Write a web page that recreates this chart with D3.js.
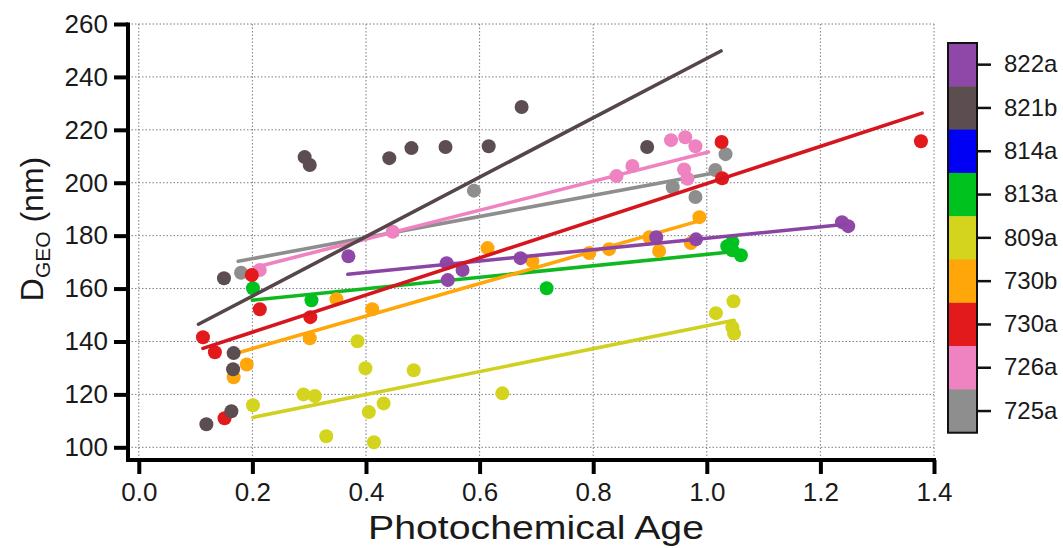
<!DOCTYPE html>
<html>
<head>
<meta charset="utf-8">
<script src="https://cdn.jsdelivr.net/npm/d3@7/dist/d3.min.js"></script>
<style>
  html, body { margin: 0; padding: 0; background: #fff; }
  svg { display: block; font-family: "Liberation Sans", Arial, sans-serif; }
</style>
</head>
<body>
<svg id="chart" width="1063" height="548"></svg>
<script>
// ---- data ----
const seriesNames = ["725a", "726a", "730a", "730b", "809a", "813a", "814a", "821b", "822a"];
const seriesColors = ["#8e8e8e", "#ef83c2", "#e31a1c", "#ffa60a", "#d4d41e", "#00c21e", "#0000f5", "#5c4d51", "#8f47a8"];
const lineColors   = ["#8e8e8e", "#ef83c2", "#d6161e", "#ffa60a", "#cfd020", "#10b820", "#0000f5", "#554649", "#8a44a4"];

const x725a = [0.18, 0.59, 0.94, 0.98, 1.015, 1.033];
const y725a = [166, 197, 198.3, 194.6, 204.8, 210.8];
const x726a = [0.213, 0.447, 0.841, 0.869, 0.937, 0.962, 0.98, 0.96, 0.966];
const y726a = [167, 181.5, 202.5, 206.3, 216.1, 217.2, 213.8, 205, 201.5];
const x730a = [0.199, 0.213, 0.113, 0.134, 0.151, 0.302, 1.026, 1.027, 1.377];
const y730a = [165.1, 152.2, 141.6, 135.9, 111, 149.2, 215.4, 201.7, 215.7];
const x730b = [0.167, 0.19, 0.301, 0.348, 0.411, 0.614, 0.693, 0.793, 0.828, 0.899, 0.916, 0.972, 0.987];
const y730b = [126.5, 131.3, 141.2, 156, 152.2, 175.3, 170.4, 173.4, 174.9, 179.4, 174.2, 177.2, 187];
const x809a = [0.201, 0.29, 0.31, 0.33, 0.385, 0.399, 0.405, 0.414, 0.431, 0.484, 0.64, 1.016, 1.047, 1.045, 1.048];
const y809a = [115.9, 120, 119.4, 104.2, 140.1, 129.9, 113.3, 101.9, 116.6, 129.1, 120.4, 150.7, 155.2, 145.4, 143];
const x813a = [0.201, 0.304, 0.718, 1.036, 1.045, 1.045, 1.06];
const y813a = [160.1, 155.6, 160.1, 176, 177.5, 174.5, 172.6];
const x814a = [];
const y814a = [];
const x821b = [0.292, 0.301, 0.441, 0.48, 0.54, 0.616, 0.674, 0.895, 0.15, 0.167, 0.166, 0.163, 0.119];
const y821b = [209.7, 206.7, 209.3, 213.1, 213.5, 213.8, 228.6, 213.5, 163.9, 135.6, 129.5, 113.6, 108.7];
const x822a = [0.369, 0.542, 0.544, 0.57, 0.672, 0.911, 0.981, 1.238, 1.249];
const y822a = [172.2, 169.6, 163.2, 167, 171.5, 179.4, 178.6, 185.1, 183.6];

// fit lines: [xStart, yStart, xEnd, yEnd]
const fit725a = [0.175, 170.3, 1.02, 204];
const fit726a = [0.204, 168, 1.003, 211.6];
const fit730a = [0.113, 137.4, 1.379, 226.3];
const fit730b = [0.166, 135.2, 0.982, 185.3];
const fit809a = [0.201, 111.3, 1.048, 148];
const fit813a = [0.2, 155.6, 1.045, 173.9];
const fit814a = null;
const fit821b = [0.105, 146.5, 1.025, 249.8];
const fit822a = [0.368, 165.4, 1.245, 184.3];

const xTicks = [0.0, 0.2, 0.4, 0.6, 0.8, 1.0, 1.2, 1.4];
const yTicks = [100, 120, 140, 160, 180, 200, 220, 240, 260];

const xData = [x725a, x726a, x730a, x730b, x809a, x813a, x814a, x821b, x822a];
const yData = [y725a, y726a, y730a, y730b, y809a, y813a, y814a, y821b, y822a];
const fits  = [fit725a, fit726a, fit730a, fit730b, fit809a, fit813a, fit814a, fit821b, fit822a];

// ---- layout ----
const svg = d3.select("#chart");
const pL = 128, pR = 934, pT = 24, pB = 460;

const x = d3.scaleLinear().domain([-0.019, 1.4]).range([pL, pR]);
const y = d3.scaleLinear().domain([95.2, 260]).range([pB, pT]);

// grid
const grid = svg.append("g");
grid.selectAll("line.v").data(xTicks).join("line")
  .attr("x1", d => x(d)).attr("x2", d => x(d))
  .attr("y1", pT).attr("y2", pB)
  .attr("stroke", "#7a7a8a").attr("stroke-width", 1).attr("stroke-dasharray", "1.5,2");
grid.selectAll("line.h").data(yTicks).join("line")
  .attr("x1", pL).attr("x2", pR)
  .attr("y1", d => y(d)).attr("y2", d => y(d))
  .attr("stroke", "#7a7a8a").attr("stroke-width", 1).attr("stroke-dasharray", "1.5,2");

// draw order
const drawOrder = [0, 1, 4, 5, 3, 8, 2, 7, 6];
const marks = svg.append("g");
drawOrder.forEach(i => {
  const g = marks.append("g");
  const pts = xData[i].map((v, k) => [v, yData[i][k]]);
  g.selectAll("circle").data(pts).join("circle")
    .attr("cx", d => x(d[0])).attr("cy", d => y(d[1]))
    .attr("r", 7).attr("fill", seriesColors[i]);
  const f = fits[i];
  if (f) {
    g.append("line")
      .attr("x1", x(f[0])).attr("y1", y(f[1]))
      .attr("x2", x(f[2])).attr("y2", y(f[3]))
      .attr("stroke", lineColors[i]).attr("stroke-width", 3.6).attr("stroke-linecap", "round");
  }
});

// axes
const yAxis = d3.axisLeft(y).tickValues(yTicks).tickSize(14).tickPadding(6).tickFormat(d3.format("d"));
const gy = svg.append("g").attr("transform", `translate(${pL},0)`).call(yAxis);
gy.select(".domain").remove();
gy.selectAll(".tick line").attr("stroke", "#000").attr("stroke-width", 4);
gy.selectAll(".tick text").attr("font-size", 26).attr("fill", "#1a1a1a");
svg.append("line").attr("x1", pL).attr("x2", pL).attr("y1", pT - 1.5).attr("y2", pB + 2)
  .attr("stroke", "#000").attr("stroke-width", 4);

const xAxis = d3.axisBottom(x).tickValues(xTicks).tickSize(14).tickPadding(9).tickFormat(d3.format(".1f"));
const gx = svg.append("g").attr("transform", `translate(0,${pB})`).call(xAxis);
gx.select(".domain").remove();
gx.selectAll(".tick line").attr("stroke", "#000").attr("stroke-width", 4);
gx.selectAll(".tick text").attr("font-size", 26).attr("fill", "#1a1a1a");
svg.append("line").attr("x1", pL - 2).attr("x2", pR + 2).attr("y1", pB).attr("y2", pB)
  .attr("stroke", "#000").attr("stroke-width", 4);

// axis titles
svg.append("text").attr("x", 536).attr("y", 539)
  .attr("text-anchor", "middle").attr("font-size", 33).attr("fill", "#1a1a1a")
  .attr("textLength", 336).attr("lengthAdjust", "spacingAndGlyphs")
  .text("Photochemical Age");

const yt = svg.append("text").attr("transform", "translate(43,229) rotate(-90)")
  .attr("text-anchor", "middle").attr("font-size", 32).attr("fill", "#1a1a1a");
yt.append("tspan").text("D");
yt.append("tspan").attr("font-size", 21).attr("dy", 7).text("GEO");
yt.append("tspan").attr("dy", -7).text(" (nm)");

// colour-bar legend
const legTop = 43, legH = 43.3, legX = 948, legW = 29;
const legOrder = seriesNames.map((d, i) => i).reverse();
const leg = svg.append("g");
const ly = d3.scaleBand().domain(legOrder.map(i => seriesNames[i])).range([legTop, legTop + legH * 9]).paddingInner(0);
leg.selectAll("rect").data(legOrder).join("rect")
  .attr("x", legX).attr("y", i => ly(seriesNames[i]))
  .attr("width", legW).attr("height", ly.bandwidth() + 0.5)
  .attr("fill", i => seriesColors[i]);
leg.append("rect").attr("x", legX).attr("y", legTop).attr("width", legW).attr("height", legH * 9)
  .attr("fill", "none").attr("stroke", "#111").attr("stroke-width", 2);
const legAxis = d3.axisRight(ly).tickSize(14).tickPadding(13);
const gl = leg.append("g").attr("transform", `translate(${legX + legW},0)`).call(legAxis);
gl.select(".domain").remove();
gl.selectAll(".tick line").attr("stroke", "#111").attr("stroke-width", 2.5);
gl.selectAll(".tick text").attr("font-size", 24).attr("fill", "#1a1a1a");
</script>
</body>
</html>
